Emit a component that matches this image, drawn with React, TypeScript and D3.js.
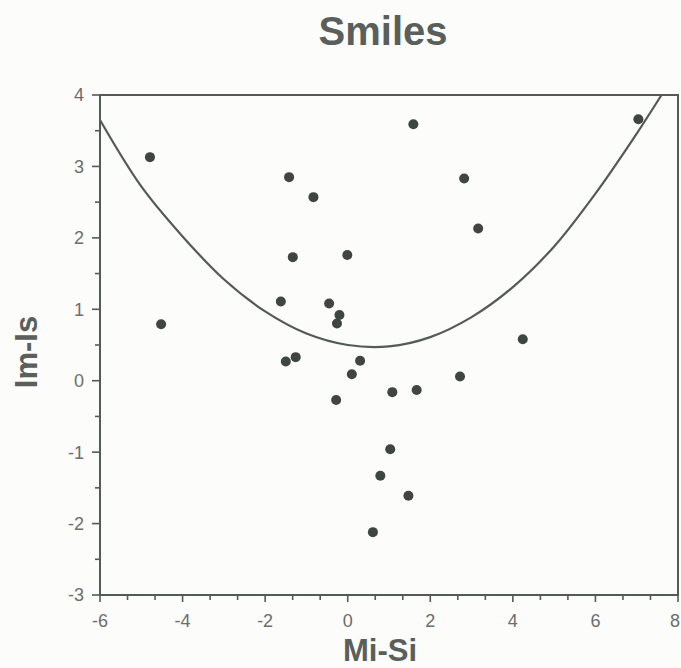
import * as d3 from "d3";
import React, { useRef, useEffect } from "react";

// scatter values
const pointX = [
    -4.79, -4.52, 1.59, 7.04, -1.42, 2.82, -0.83, 3.16, -1.33, -0.01, -1.62,
    -0.45, -0.2, -0.26, 4.24, -1.5, -1.26, 0.3, 0.1, -0.28, 1.08, 1.67, 2.72,
    1.03, 0.79, 1.47, 0.61,
];
const pointY = [
    3.13, 0.79, 3.59, 3.66, 2.85, 2.83, 2.57, 2.13, 1.73, 1.76, 1.11, 1.08,
    0.92, 0.8, 0.58, 0.27, 0.33, 0.28, 0.09, -0.27, -0.16, -0.13, 0.06, -0.96,
    -1.33, -1.61, -2.12,
];

// the fitted curve, read at several x positions
const curveX = [-6, -5, -4, -3, -2, -1, 0, 1, 2, 3, 4, 5, 6, 7, 7.6];
const curveY = [
    3.65, 2.72, 2.02, 1.42, 0.97, 0.66, 0.5, 0.48, 0.61, 0.89, 1.31, 1.88,
    2.62, 3.46, 4.0,
];

const xTicks = [-6, -4, -2, 0, 2, 4, 6, 8];
const yTicks = [-3, -2, -1, 0, 1, 2, 3, 4];

const W = 681;
const H = 668;
const lineColor = "#525b57";
const textColor = "#6b6e6c";
const dotColor = "#3f4543";
const font = "Liberation Sans, Arial, sans-serif";

function App() {
    const ref = useRef<SVGSVGElement>(null);

    useEffect(() => {
        document.body.style.margin = "0";
        const svg = d3.select(ref.current);
        svg.selectAll("*").remove();

        const x = d3.scaleLinear().domain([-6, 8]).range([100, 678]);
        const y = d3.scaleLinear().domain([-3, 4]).range([595, 95]);

        svg.append("rect")
            .attr("width", W)
            .attr("height", H)
            .attr("fill", "#fcfcfb");

        // frame
        svg.append("rect")
            .attr("x", x(-6))
            .attr("y", y(4))
            .attr("width", x(8) - x(-6))
            .attr("height", y(-3) - y(4))
            .attr("fill", "none")
            .attr("stroke", lineColor)
            .attr("stroke-width", 2);

        // x ticks: labelled every 2, minor ticks in thirds
        const xMinor = d3.range(-6, 8.001, 2 / 3);
        svg.append("g")
            .selectAll("line")
            .data(xMinor)
            .join("line")
            .attr("x1", (d) => x(d))
            .attr("x2", (d) => x(d))
            .attr("y1", y(-3))
            .attr("y2", (d, i) => y(-3) + (i % 3 === 0 ? 7 : 5))
            .attr("stroke", lineColor)
            .attr("stroke-width", 1.6);

        svg.append("g")
            .selectAll("text")
            .data(xTicks)
            .join("text")
            .attr("x", (d) => (d === 8 ? W - 1 : x(d)))
            .attr("y", 627)
            .attr("text-anchor", (d) => (d === 8 ? "end" : "middle"))
            .attr("font-family", font)
            .attr("font-size", 18)
            .attr("fill", textColor)
            .text((d) => String(d));

        // y ticks: every 0.5
        const yMinor = d3.range(-3, 4.001, 0.5);
        svg.append("g")
            .selectAll("line")
            .data(yMinor)
            .join("line")
            .attr("x1", x(-6))
            .attr("x2", (d, i) => x(-6) - (i % 2 === 0 ? 8 : 5))
            .attr("y1", (d) => y(d))
            .attr("y2", (d) => y(d))
            .attr("stroke", lineColor)
            .attr("stroke-width", 1.6);

        svg.append("g")
            .selectAll("text")
            .data(yTicks)
            .join("text")
            .attr("x", 84)
            .attr("y", (d) => y(d))
            .attr("dy", "0.36em")
            .attr("text-anchor", "end")
            .attr("font-family", font)
            .attr("font-size", 18)
            .attr("fill", textColor)
            .text((d) => String(d));

        // curve
        const curve = curveX.map((d, i) => [d, curveY[i]] as [number, number]);
        const line = d3
            .line<[number, number]>()
            .x((d) => x(d[0]))
            .y((d) => y(d[1]))
            .curve(d3.curveCatmullRom);
        svg.append("path")
            .attr("d", line(curve))
            .attr("fill", "none")
            .attr("stroke", lineColor)
            .attr("stroke-width", 2.2);

        // points
        svg.append("g")
            .selectAll("circle")
            .data(pointX.map((d, i) => [d, pointY[i]]))
            .join("circle")
            .attr("cx", (d) => x(d[0]))
            .attr("cy", (d) => y(d[1]))
            .attr("r", 5)
            .attr("fill", dotColor);

        // titles
        svg.append("text")
            .attr("x", 383)
            .attr("y", 45)
            .attr("text-anchor", "middle")
            .attr("font-family", font)
            .attr("font-weight", "bold")
            .attr("font-size", 40)
            .attr("fill", "#5a5f5c")
            .text("Smiles");

        svg.append("text")
            .attr("x", 380)
            .attr("y", 661)
            .attr("text-anchor", "middle")
            .attr("font-family", font)
            .attr("font-weight", "bold")
            .attr("font-size", 31)
            .attr("fill", "#5a5f5c")
            .text("Mi-Si");

        svg.append("text")
            .attr("transform", "translate(37, 352) rotate(-90)")
            .attr("text-anchor", "middle")
            .attr("font-family", font)
            .attr("font-weight", "bold")
            .attr("font-size", 31)
            .attr("fill", "#5a5f5c")
            .text("Im-Is");
    }, []);

    return <svg ref={ref} width={W} height={H} style={{ display: "block" }}></svg>;
}

export default App;
